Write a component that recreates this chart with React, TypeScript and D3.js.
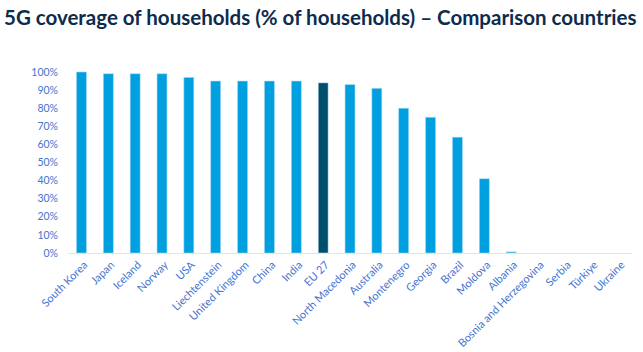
import { useEffect, useRef } from 'react';
import * as d3 from 'd3';

const countries = [
  'South Korea', 'Japan', 'Iceland', 'Norway', 'USA', 'Liechtenstein',
  'United Kingdom', 'China', 'India', 'EU 27', 'North Macedonia', 'Australia',
  'Montenegro', 'Georgia', 'Brazil', 'Moldova', 'Albania',
  'Bosnia and Herzegovina', 'Serbia', 'Türkiye', 'Ukraine',
];
const coverage = [100, 99, 99, 99, 97, 95, 95, 95, 95, 94, 93, 91, 80, 75, 64, 41, 0.6, 0, 0, 0, 0];
const yTicks = [0, 10, 20, 30, 40, 50, 60, 70, 80, 90, 100];
const highlight = 'EU 27';

const width = 643;
const height = 352;
const font = 'Lato, "Open Sans", sans-serif';

export default function App() {
  const svgRef = useRef<SVGSVGElement>(null);

  useEffect(() => {
    if (!svgRef.current) return;
    const svg = d3.select(svgRef.current);
    svg.selectAll('*').remove();

    const margin = { top: 72, right: 11, bottom: 99, left: 68 };
    const innerWidth = width - margin.left - margin.right;
    const innerHeight = height - margin.top - margin.bottom;

    svg.append('rect').attr('width', width).attr('height', height).attr('fill', '#ffffff');

    svg.append('text')
      .attr('x', 4)
      .attr('y', 25)
      .attr('fill', '#0d2b4e')
      .attr('font-family', font)
      .attr('font-size', '20.5px')
      .attr('font-weight', 'bold')
      .text('5G coverage of households (% of households) – Comparison countries');

    const xScale = d3.scaleBand<string>()
      .domain(countries)
      .range([0, innerWidth])
      .paddingInner(0.63)
      .paddingOuter(0.315);

    const yScale = d3.scaleLinear().domain([0, 100]).range([innerHeight, 0]);

    const g = svg.append('g').attr('transform', `translate(${margin.left},${margin.top})`);

    g.selectAll('rect.bar')
      .data(countries)
      .join('rect')
      .attr('class', 'bar')
      .attr('x', d => xScale(d)!)
      .attr('width', xScale.bandwidth())
      .attr('y', (_d, i) => yScale(coverage[i]))
      .attr('height', (_d, i) => innerHeight - yScale(coverage[i]))
      .attr('fill', d => (d === highlight ? '#004e6d' : '#009fe0'))
      .attr('stroke', d => (d === highlight ? '#c9e3f0' : '#9fd8f2'))
      .attr('stroke-width', 0.6);

    g.append('line')
      .attr('x1', 0)
      .attr('x2', innerWidth)
      .attr('y1', innerHeight + 0.5)
      .attr('y2', innerHeight + 0.5)
      .attr('stroke', '#dbe6f2')
      .attr('stroke-width', 1.2);

    g.selectAll('text.ytick')
      .data(yTicks)
      .join('text')
      .attr('class', 'ytick')
      .attr('x', -10)
      .attr('y', d => yScale(d))
      .attr('dy', '0.35em')
      .attr('text-anchor', 'end')
      .attr('fill', '#4474d2')
      .attr('font-family', font)
      .attr('font-size', '10.5px')
      .text(d => `${d}%`);

    g.selectAll('text.xtick')
      .data(countries)
      .join('text')
      .attr('class', 'xtick')
      .attr('transform', d => {
        const x = xScale(d)! + xScale.bandwidth() / 2 + 4;
        return `translate(${x},${innerHeight + 10}) rotate(-45)`;
      })
      .attr('text-anchor', 'end')
      .attr('dy', '0.35em')
      .attr('fill', '#4474d2')
      .attr('font-family', font)
      .attr('font-size', '11px')
      .text(d => d);
  }, []);

  return (
    <svg
      ref={svgRef}
      width={width}
      height={height}
      style={{ position: 'absolute', left: 0, top: 0 }}
    />
  );
}
